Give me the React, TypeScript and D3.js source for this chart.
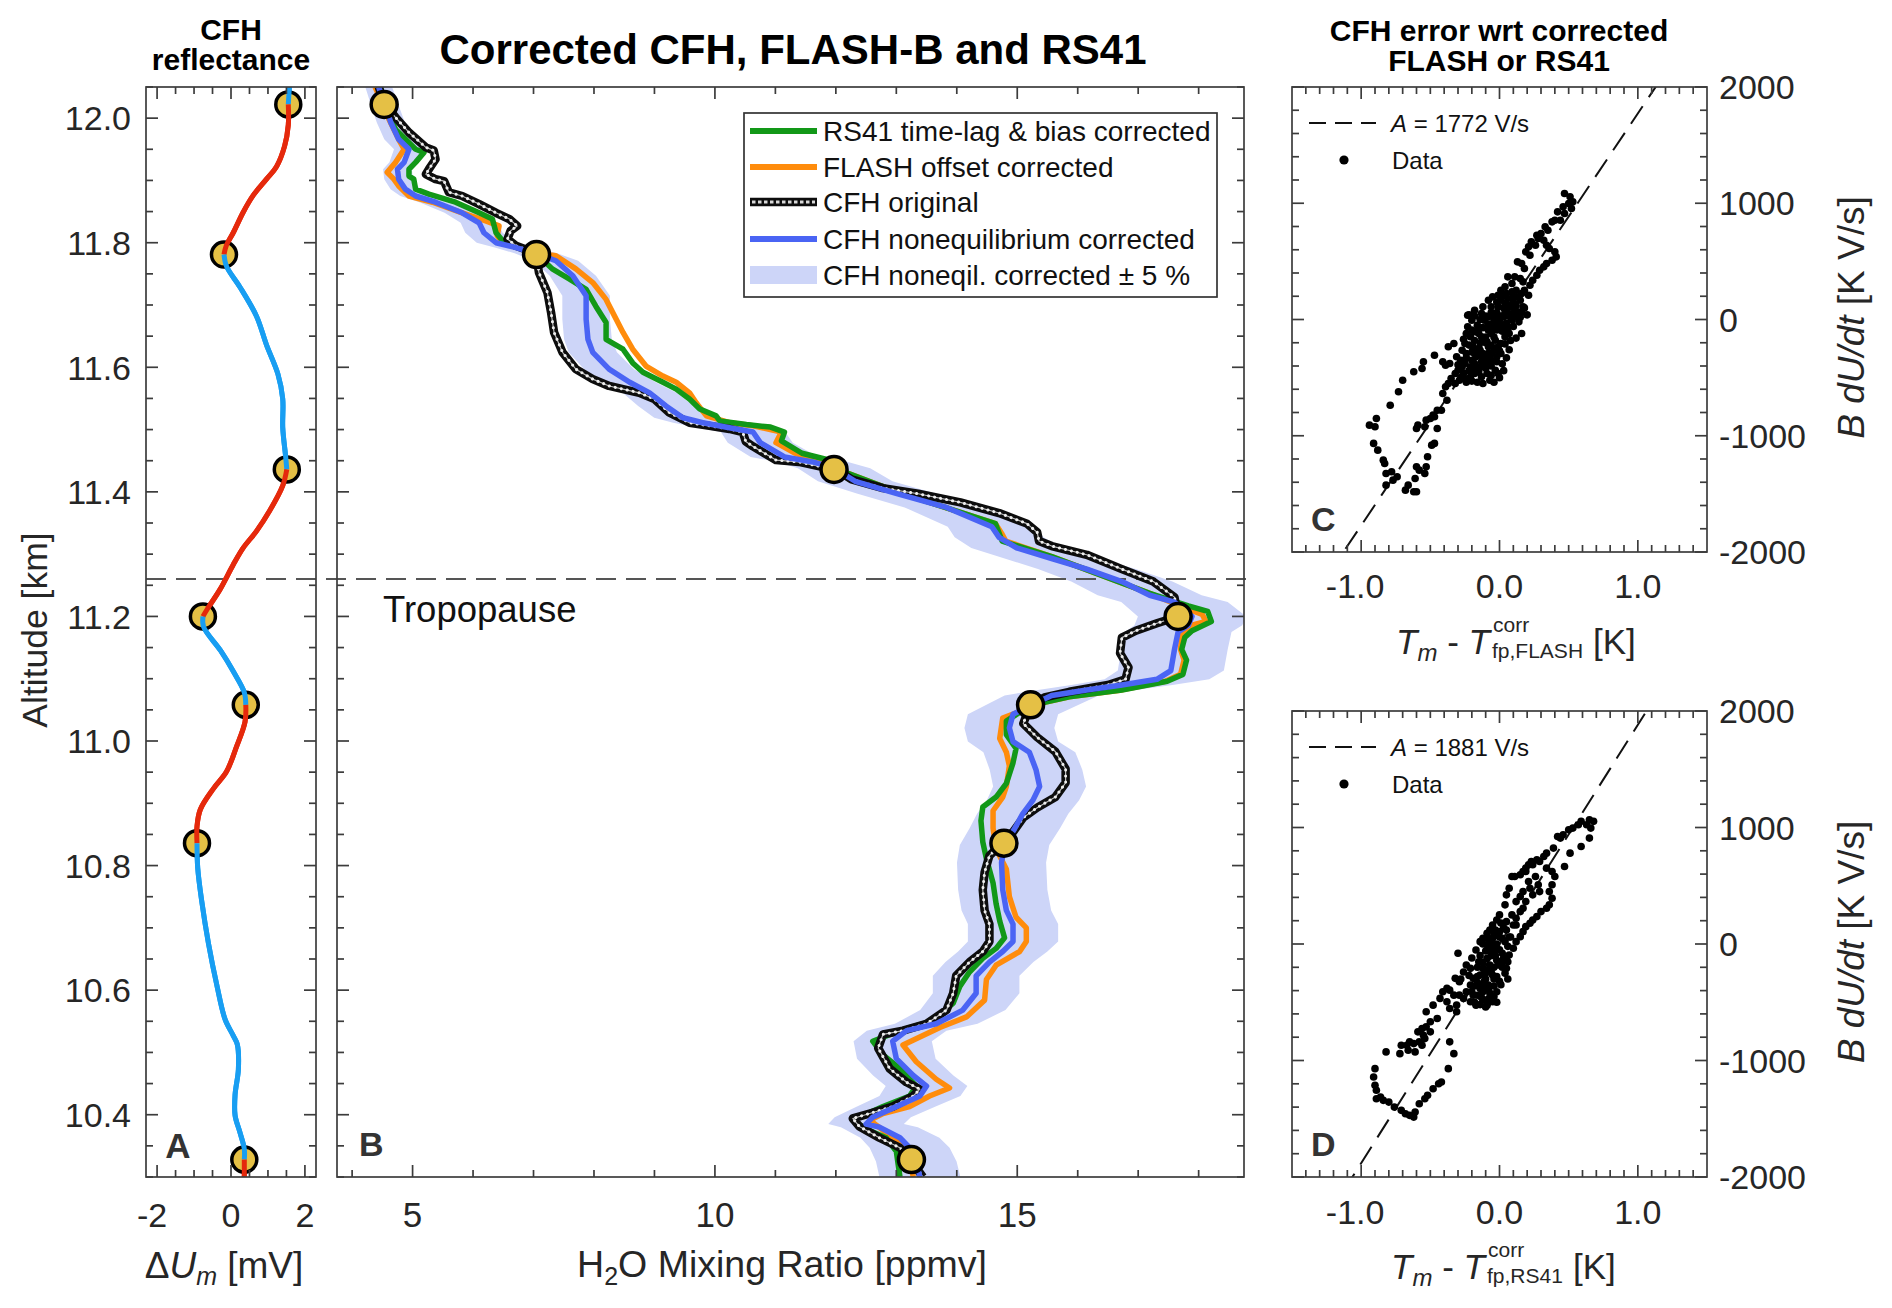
import * as d3 from "d3";

const W = 1892;
const H = 1308;
const FONT = "'Liberation Sans', Arial, Helvetica, sans-serif";
const INK = "#262626";

// yellow markers shared by panels A and B
const markerAlt = [12.022, 11.781, 11.436, 11.2, 11.058, 10.836, 10.328];
const markerDU = [1.55, -0.19, 1.51, -0.76, 0.4, -0.92, 0.36];
const markerPpmv = [4.53, 7.05, 11.97, 17.66, 15.22, 14.78, 13.25];

// panel A: [altitude km, dUm mV]
const reflectance: [number, number][] = [
  [12.05, 1.58], [12.022, 1.55], [11.989, 1.55], [11.955, 1.45], [11.922, 1.23], [11.902, 0.96],
  [11.876, 0.6], [11.849, 0.33], [11.816, 0.06], [11.795, -0.13], [11.781, -0.19], [11.762, -0.12],
  [11.729, 0.24], [11.682, 0.69], [11.636, 0.96], [11.589, 1.27], [11.549, 1.4], [11.503, 1.4],
  [11.456, 1.48], [11.436, 1.51], [11.41, 1.4], [11.37, 1.05], [11.337, 0.69], [11.31, 0.33],
  [11.283, 0.06], [11.243, -0.3], [11.212, -0.64], [11.2, -0.76], [11.183, -0.74], [11.145, -0.28],
  [11.112, 0.06], [11.078, 0.36], [11.058, 0.4], [11.031, 0.38], [10.991, 0.15], [10.951, -0.12],
  [10.924, -0.47], [10.89, -0.83], [10.863, -0.92], [10.836, -0.92], [10.796, -0.9], [10.742, -0.79],
  [10.675, -0.61], [10.607, -0.38], [10.553, -0.16], [10.527, 0.06], [10.513, 0.17], [10.473, 0.2],
  [10.432, 0.11], [10.399, 0.11], [10.372, 0.24], [10.345, 0.36], [10.328, 0.36], [10.3, 0.36],
];

// panel B profiles: [altitude km, H2O ppmv]
const rs41: [number, number][] = [
  [12.05, 4.47], [12.009, 4.58], [11.982, 4.72], [11.95, 5.05], [11.945, 5.19], [11.929, 5.05],
  [11.918, 4.94], [11.907, 4.94], [11.902, 5.02], [11.886, 5.05], [11.878, 5.27], [11.865, 5.71],
  [11.848, 6.1], [11.838, 6.32], [11.816, 6.38], [11.803, 6.49], [11.795, 6.71], [11.783, 7.04],
  [11.758, 7.31], [11.742, 7.59], [11.725, 7.87], [11.698, 8.03], [11.672, 8.2], [11.645, 8.2],
  [11.629, 8.48], [11.607, 8.64], [11.592, 8.81], [11.576, 9.14], [11.565, 9.36], [11.549, 9.58],
  [11.533, 9.75], [11.522, 10.02], [11.514, 10.08], [11.508, 10.52], [11.504, 10.92], [11.496, 11.15],
  [11.482, 11.1], [11.462, 11.44], [11.452, 11.85], [11.438, 11.97], [11.4, 13.01], [11.349, 14.64],
  [11.321, 14.75], [11.296, 15.57], [11.237, 17.19], [11.217, 17.83], [11.208, 18.15], [11.192, 18.21],
  [11.177, 17.89], [11.166, 17.77], [11.147, 17.72], [11.13, 17.8], [11.107, 17.74], [11.096, 17.48],
  [11.082, 16.73], [11.071, 15.86], [11.062, 15.45], [11.05, 15.1], [11.032, 14.82], [11.01, 14.82],
  [10.988, 14.98], [10.965, 14.93], [10.932, 14.82], [10.91, 14.65], [10.894, 14.43], [10.872, 14.4],
  [10.838, 14.43], [10.811, 14.49], [10.772, 14.6], [10.739, 14.65], [10.711, 14.71], [10.684, 14.79],
  [10.667, 14.65], [10.651, 14.43], [10.629, 14.21], [10.606, 14.05], [10.579, 13.94], [10.551, 13.61],
  [10.535, 13.06], [10.518, 12.61], [10.496, 12.78], [10.474, 13.06], [10.446, 13.33], [10.43, 13.22],
  [10.413, 12.78], [10.391, 12.28], [10.377, 12.5], [10.363, 12.83], [10.341, 13.0], [10.3, 13.06],
];

const flash: [number, number][] = [
  [12.05, 4.38], [11.998, 4.61], [11.966, 4.77], [11.95, 4.86], [11.929, 4.72], [11.913, 4.58],
  [11.902, 4.69], [11.891, 4.77], [11.875, 4.94], [11.865, 5.33], [11.848, 5.82], [11.835, 6.21],
  [11.827, 6.43], [11.811, 6.4], [11.8, 6.49], [11.783, 7.04], [11.779, 7.37], [11.758, 7.7],
  [11.736, 7.98], [11.709, 8.2], [11.688, 8.31], [11.656, 8.48], [11.629, 8.64], [11.602, 8.86],
  [11.586, 9.14], [11.576, 9.36], [11.559, 9.58], [11.543, 9.69], [11.522, 9.86], [11.511, 10.24],
  [11.506, 10.63], [11.496, 11.1], [11.479, 11.01], [11.462, 11.33], [11.438, 11.97], [11.4, 13.01],
  [11.349, 14.64], [11.332, 14.75], [11.321, 14.81], [11.296, 15.57], [11.237, 17.19], [11.215, 17.75],
  [11.203, 18.06], [11.192, 18.12], [11.186, 17.89], [11.169, 17.72], [11.147, 17.7], [11.13, 17.76],
  [11.107, 17.7], [11.096, 17.45], [11.082, 16.73], [11.071, 15.86], [11.062, 15.45], [11.037, 14.76],
  [11.004, 14.71], [10.982, 14.82], [10.96, 14.87], [10.927, 14.82], [10.91, 14.76], [10.888, 14.6],
  [10.86, 14.6], [10.827, 14.65], [10.794, 14.82], [10.75, 14.87], [10.717, 14.98], [10.7, 15.15],
  [10.678, 15.15], [10.662, 15.04], [10.64, 14.65], [10.617, 14.49], [10.584, 14.46], [10.557, 14.16],
  [10.54, 13.72], [10.512, 13.11], [10.485, 13.33], [10.457, 13.66], [10.443, 13.88], [10.43, 13.55],
  [10.413, 13.22], [10.402, 12.78], [10.391, 12.56], [10.375, 12.78], [10.353, 13.06], [10.331, 13.22],
  [10.3, 13.28],
];

const cfhOriginal: [number, number][] = [
  [12.05, 4.44], [12.024, 4.53], [12.001, 4.72], [11.977, 4.94], [11.953, 5.22], [11.948, 5.35],
  [11.934, 5.38], [11.918, 5.27], [11.91, 5.22], [11.902, 5.38], [11.899, 5.52], [11.881, 5.6],
  [11.875, 5.82], [11.862, 6.1], [11.848, 6.38], [11.838, 6.6], [11.827, 6.73], [11.819, 6.62],
  [11.806, 6.57], [11.795, 6.71], [11.783, 7.04], [11.752, 7.09], [11.72, 7.23], [11.688, 7.29],
  [11.656, 7.34], [11.624, 7.48], [11.597, 7.7], [11.581, 7.98], [11.57, 8.25], [11.565, 8.48],
  [11.559, 8.75], [11.549, 9.0], [11.527, 9.25], [11.511, 9.58], [11.506, 9.91], [11.501, 10.24],
  [11.496, 10.46], [11.481, 10.51], [11.473, 10.63], [11.451, 11.01], [11.448, 11.39], [11.441, 11.73],
  [11.438, 11.97], [11.42, 12.26], [11.406, 12.78], [11.397, 13.36], [11.383, 14.06], [11.366, 14.7],
  [11.349, 15.16], [11.335, 15.33], [11.321, 15.36], [11.313, 15.57], [11.299, 16.15], [11.276, 16.73],
  [11.256, 17.25], [11.231, 17.6], [11.2, 17.66], [11.189, 17.31], [11.177, 16.96], [11.166, 16.73],
  [11.141, 16.7], [11.118, 16.84], [11.099, 16.79], [11.09, 16.5], [11.079, 15.86], [11.07, 15.45],
  [11.058, 15.22], [11.028, 15.1], [11.006, 15.33], [10.983, 15.63], [10.955, 15.8], [10.933, 15.8],
  [10.91, 15.63], [10.893, 15.33], [10.877, 15.1], [10.854, 14.93], [10.837, 14.77], [10.816, 14.54],
  [10.789, 14.46], [10.761, 14.43], [10.728, 14.46], [10.706, 14.54], [10.678, 14.54], [10.662, 14.43],
  [10.645, 14.21], [10.623, 13.99], [10.595, 13.94], [10.568, 13.83], [10.546, 13.5], [10.535, 13.11],
  [10.529, 12.78], [10.507, 12.7], [10.474, 12.89], [10.452, 13.17], [10.441, 13.39], [10.43, 13.28],
  [10.413, 12.94], [10.402, 12.56], [10.394, 12.28], [10.381, 12.39], [10.363, 12.72], [10.347, 13.06],
  [10.327, 13.24], [10.3, 13.44],
];

const cfhNoneq: [number, number][] = [
  [12.05, 4.44], [12.024, 4.53], [11.993, 4.64], [11.966, 4.77], [11.95, 4.94], [11.929, 4.86],
  [11.918, 4.75], [11.902, 4.77], [11.886, 4.88], [11.875, 5.05], [11.865, 5.38], [11.848, 5.82],
  [11.832, 6.1], [11.816, 6.18], [11.8, 6.38], [11.792, 6.71], [11.783, 7.04], [11.771, 7.37],
  [11.747, 7.65], [11.715, 7.87], [11.677, 7.87], [11.645, 7.9], [11.624, 7.98], [11.597, 8.25],
  [11.576, 8.59], [11.559, 8.92], [11.538, 9.19], [11.519, 9.47], [11.511, 9.8], [11.503, 10.24],
  [11.496, 10.63], [11.479, 10.75], [11.456, 11.15], [11.448, 11.62], [11.438, 11.97], [11.417, 12.32],
  [11.397, 13.01], [11.375, 13.83], [11.344, 14.58], [11.327, 14.7], [11.31, 14.99], [11.293, 15.57],
  [11.276, 16.15], [11.256, 16.73], [11.234, 17.19], [11.223, 17.6], [11.2, 17.89], [11.186, 17.83],
  [11.175, 17.66], [11.147, 17.6], [11.113, 17.54], [11.099, 17.31], [11.09, 16.73], [11.082, 16.15],
  [11.073, 15.57], [11.062, 15.33], [11.043, 14.93], [11.021, 14.87], [10.999, 14.93], [10.982, 15.2],
  [10.954, 15.31], [10.927, 15.37], [10.905, 15.26], [10.883, 15.09], [10.86, 14.96], [10.833, 14.79],
  [10.805, 14.74], [10.761, 14.76], [10.728, 14.82], [10.706, 14.93], [10.678, 14.93], [10.662, 14.76],
  [10.645, 14.54], [10.623, 14.32], [10.595, 14.32], [10.568, 14.1], [10.546, 13.66], [10.535, 13.17],
  [10.518, 12.94], [10.49, 13.0], [10.463, 13.28], [10.446, 13.5], [10.43, 13.39], [10.413, 13.0],
  [10.396, 12.61], [10.385, 12.5], [10.38, 12.72], [10.363, 13.06], [10.347, 13.22], [10.325, 13.33],
  [10.3, 13.39],
];

const bandFraction = 0.05;

// panels C and D: [Tm - Tfp K, B dU/dt K V/s]
const fitFlash = 1772;
const fitRs41 = 1881;

const errFlash: [number, number][] = [
  [0.47, 1084], [0.51, 1055], [0.53, 1012], [0.5, 998], [0.46, 969], [0.52, 955], [0.42, 926], [0.47, 912],
  [0.4, 854], [0.38, 840], [0.44, 854], [0.33, 797], [0.35, 768], [0.3, 740], [0.27, 725], [0.28, 697],
  [0.23, 668], [0.26, 639], [0.21, 625], [0.19, 582], [0.22, 553], [0.32, 682], [0.34, 639], [0.36, 611],
  [0.4, 582], [0.41, 539], [0.38, 510], [0.34, 482], [0.32, 453], [0.29, 424], [0.27, 381], [0.24, 338],
  [0.22, 295], [0.18, 439], [0.16, 482], [0.13, 496], [0.11, 367], [0.15, 353], [0.17, 324], [0.06, 367],
  [0.09, 310], [0.04, 281], [0.01, 252], [-0.01, 209], [0.01, 166], [0.05, 224], [0.09, 238], [0.12, 252],
  [0.16, 224], [0.18, 252], [0.21, 209], [0.15, 166], [0.17, 109], [0.13, 66], [0.11, 23], [0.09, -6],
  [0.06, -63], [0.07, -120], [0.04, -149], [0.01, -206], [-0.01, -235], [-0.03, -264], [-0.06, -292],
  [-0.08, -321], [-0.11, -350], [-0.13, -364], [-0.18, -378], [-0.21, -407], [-0.2, -350], [-0.25, -378],
  [-0.27, -407], [-0.3, -436], [-0.32, -464], [-0.35, -507], [-0.37, -550], [-0.32, -550], [-0.29, -522],
  [-0.25, -507], [-0.21, -493], [-0.18, -464], [-0.15, -450], [-0.13, -493], [-0.09, -464], [-0.07, -522],
  [-0.03, -436], [-0.01, -464], [-0.02, -364], [0.01, -292], [-0.03, -178], [-0.08, -92], [-0.11, -6],
  [-0.13, 52], [-0.18, 80], [-0.23, 37], [-0.2, -6], [-0.16, -49], [-0.15, -120], [-0.13, -149],
  [-0.09, -192], [-0.06, -221], [-0.21, -149], [-0.25, -206], [-0.27, -264], [-0.24, -292], [-0.19, -235],
  [-0.18, -292], [-0.14, -264], [-0.12, -292], [-0.08, -235], [-0.01, -63], [0.03, 23], [0.05, 80],
  [-0.03, 23], [-0.06, 109], [-0.01, 109], [0.04, 138], [0.09, 109], [-0.08, 166], [-0.05, 195],
  [-0.12, 109], [-0.08, 23], [-0.18, -106], [-0.23, -63], [-0.31, -321], [0.0, 0], [0.05, -30],
  [-0.05, -80], [0.08, 50], [-0.1, -200], [-0.04, -150], [0.02, -100], [0.1, 150], [0.12, 120],
  [-0.02, 60], [-0.15, -250], [-0.06, -350], [-0.1, -420], [-0.17, -320],
  [-0.22, 40], [-0.18, 30], [-0.14, 0], [-0.1, 30], [-0.06, 60], [-0.02, 150], [0.02, 200], [0.06, 180],
  [0.1, 200], [0.14, 190], [0.18, 100], [0.2, 40], [0.16, 60], [0.12, 40], [0.08, 20], [0.04, 60],
  [0.0, -30], [-0.04, -10], [-0.08, -40], [-0.12, -70], [-0.16, -100], [-0.2, -90], [-0.24, -120],
  [-0.26, -170], [-0.22, -220], [-0.18, -180], [-0.14, -200], [-0.1, -150], [-0.06, -120], [-0.02, -90],
  [0.02, -60], [0.06, -100], [0.1, -60], [0.14, -20], [0.16, -120], [0.12, -160], [0.08, -180],
  [0.04, -210], [0.0, -270], [-0.04, -250], [-0.08, -290], [-0.12, -330], [-0.16, -310], [-0.2, -280],
  [-0.24, -330], [-0.28, -350], [-0.3, -390], [-0.26, -460], [-0.22, -440], [-0.18, -420], [-0.14, -410],
  [-0.1, -380], [-0.06, -400], [-0.02, -320], [0.02, -380], [0.05, -330], [0.07, -260], [-0.28, -500],
  [-0.24, -540], [-0.2, -530], [-0.16, -540], [-0.12, -550], [-0.06, -480], [-0.04, -540], [0.0, -500],
  [0.03, -440], [0.07, 120], [0.11, 90], [0.03, 100], [-0.03, -40], [0.01, 30], [0.15, 20],
  [-0.33, -206], [-0.37, -235], [-0.47, -307], [-0.55, -364], [-0.56, -421], [-0.62, -450], [-0.41, -364],
  [-0.39, -393], [-0.36, -378], [-0.7, -522], [-0.73, -622], [-0.79, -737], [-0.39, -579], [-0.41, -636],
  [-0.38, -694], [-0.42, -780], [-0.45, -780], [-0.48, -823], [-0.5, -851], [-0.53, -866], [-0.59, -909],
  [-0.6, -938], [-0.54, -923], [-0.45, -938], [-0.47, -837], [-0.89, -851], [-0.94, -909], [-0.9, -923],
  [-0.91, -1066], [-0.88, -1124], [-0.84, -1210], [-0.83, -1239], [-0.82, -1325], [-0.78, -1310],
  [-0.74, -1353], [-0.77, -1382], [-0.82, -1425], [-0.68, -1468], [-0.66, -1425], [-0.62, -1482],
  [-0.6, -1482], [-0.61, -1368], [-0.6, -1267], [-0.58, -1296], [-0.54, -1325], [-0.53, -1267],
  [-0.52, -1181], [-0.49, -1081], [-0.47, -1066],
];

const errRs41: [number, number][] = [
  [0.65, 1067], [0.68, 1053], [0.63, 1024], [0.66, 995], [0.59, 1053], [0.57, 1024], [0.53, 995], [0.5, 981],
  [0.46, 938], [0.44, 909], [0.42, 923], [0.65, 909], [0.59, 837], [0.51, 780], [0.47, 665], [0.39, 823],
  [0.34, 780], [0.32, 751], [0.27, 723], [0.23, 708], [0.21, 680], [0.19, 651], [0.17, 622], [0.15, 594],
  [0.11, 579], [0.09, 579], [0.24, 680], [0.29, 708], [0.34, 651], [0.38, 622], [0.4, 579], [0.38, 508],
  [0.36, 450], [0.38, 393], [0.36, 336], [0.34, 307], [0.3, 278], [0.27, 235], [0.24, 206], [0.22, 178],
  [0.19, 149], [0.17, 106], [0.15, 63], [0.12, 20], [0.1, -37], [0.07, -95], [0.06, -152], [0.05, -209],
  [0.19, 622], [0.21, 536], [0.22, 479], [0.24, 422], [0.28, 508], [0.29, 450], [0.26, 579], [0.17, 450],
  [0.15, 407], [0.12, 364], [0.19, 364], [0.17, 307], [0.15, 278], [0.12, 221], [0.1, 163], [0.07, 479],
  [0.05, 422], [0.04, 336], [0.0, 250], [-0.02, 206], [-0.05, 163], [-0.07, 120], [-0.09, 92], [-0.12, 49],
  [-0.14, 20], [-0.17, -52], [-0.3, -80], [-0.09, -8], [-0.05, 49], [0.0, 106], [0.05, 192], [0.09, 250],
  [0.12, 163], [-0.05, -66], [-0.09, -123], [-0.12, -209], [-0.14, -267], [-0.19, -295], [-0.21, -353],
  [-0.24, -410], [-0.26, -467], [-0.31, -525], [-0.29, -439], [-0.33, -439], [-0.36, -396], [-0.38, -381],
  [-0.41, -410], [-0.43, -467], [-0.48, -525], [-0.53, -582], [-0.32, -295], [-0.29, -324], [-0.21, -209],
  [-0.15, -152], [-0.07, -181], [-0.05, -267], [-0.08, -353], [-0.12, -410], [-0.09, -525], [-0.05, -496],
  [-0.02, -410], [-0.14, -381], [-0.17, -525], [-0.19, -439], [-0.21, -496], [-0.31, -582], [-0.36, -554],
  [-0.38, -496], [-0.02, 0], [0.0, -50], [-0.03, -100], [0.02, 50], [-0.06, -30], [0.03, -120], [-0.1, -250],
  [-0.04, -300], [0.01, -350], [0.04, -250], [-0.07, -420], [0.06, -300], [0.08, 60], [0.03, 140],
  [-0.01, -180], [0.02, -200], [-0.11, -320], [-0.16, -330], [-0.13, -460], [-0.08, -470],
  [-0.04, 80], [0.0, 60], [0.04, 20], [0.06, -20], [0.02, -80], [-0.02, -40], [-0.06, 0], [-0.08, 40],
  [-0.1, -60], [-0.06, -100], [-0.02, -140], [0.02, -160], [0.05, -120], [-0.04, -200], [-0.08, -220],
  [-0.12, -160], [-0.14, -100], [-0.16, -200], [-0.1, -300], [-0.06, -240], [-0.02, -280], [0.0, -320],
  [-0.04, -360], [-0.08, -390], [-0.12, -360], [-0.16, -280], [-0.18, -360], [-0.2, -410], [-0.16, -440],
  [-0.12, -480], [-0.08, -500], [-0.04, -450], [-0.02, -500], [-0.1, -540], [-0.14, -520], [-0.18, -500],
  [0.01, 180], [0.05, 120], [-0.03, 120], [0.07, 60], [-0.12, 0], [-0.2, -120], [-0.24, -180],
  [-0.26, -240], [-0.22, -270], [-0.28, -300],
  [-0.45, -640], [-0.5, -668], [-0.53, -711], [-0.56, -726], [-0.59, -754], [-0.55, -783], [-0.5, -754],
  [-0.54, -812], [-0.58, -840], [-0.62, -855], [-0.65, -840], [-0.67, -869], [-0.71, -869], [-0.72, -941],
  [-0.82, -926], [-0.66, -912], [-0.61, -926], [-0.56, -869], [-0.36, -840], [-0.33, -941], [-0.37, -1070],
  [-0.9, -1070], [-0.91, -1141], [-0.9, -1213], [-0.89, -1256], [-0.86, -1314], [-0.89, -1328],
  [-0.84, -1342], [-0.8, -1357], [-0.76, -1400], [-0.71, -1428], [-0.68, -1457], [-0.65, -1471],
  [-0.62, -1486], [-0.61, -1443], [-0.58, -1371], [-0.54, -1328], [-0.52, -1299], [-0.48, -1242],
  [-0.44, -1199], [-0.42, -1185],
];

// tick values
const altTicks = d3.range(206, 242).map((i) => ({ v: i * 0.05, major: i % 4 === 0 }));
const altLabels = [10.4, 10.6, 10.8, 11.0, 11.2, 11.4, 11.6, 11.8, 12.0];
const duTicks = d3.range(-4, 5).map((i) => ({ v: i * 0.5, major: i % 4 === 0 }));
const duLabels = [-2, 0, 2];
const ppmvTicks = d3.range(4, 19).map((i) => ({ v: i, major: i % 5 === 0 }));
const ppmvLabels = [5, 10, 15];
const dtTicks = d3.range(-14, 15).map((i) => ({ v: i / 10, major: i % 10 === 0 }));
const dtLabels = [-1, 0, 1];
const rateTicks = d3.range(-10, 11).map((i) => ({ v: i * 200, major: i % 5 === 0 }));
const rateLabels = [-2000, -1000, 0, 1000, 2000];

const tropopauseAlt = 11.26;

// layout
const TOP = 87;
const BOT = 1177;
const yAlt = d3.scaleLinear().domain([10.3, 12.05]).range([BOT, TOP]);
const xA = d3.scaleLinear().domain([-2.3, 2.3]).range([146, 316]);
const xB = d3.scaleLinear().domain([3.75, 18.75]).range([337, 1244]);
const xC = d3.scaleLinear().domain([-1.5, 1.5]).range([1292, 1707]);
const yC = d3.scaleLinear().domain([-2000, 2000]).range([552, 87]);
const yD = d3.scaleLinear().domain([-2000, 2000]).range([1177, 711]);

const RED = "#e5290c";
const SKY = "#189ef2";
const GREEN = "#129818";
const ORANGE = "#ff8c0c";
const BLUE = "#4a64f4";
const BAND = "#cdd5f8";
const GOLD = "#e5c045";

type Tick = { v: number; major: boolean };

function Frame(props: {
  x0: number; x1: number; y0: number; y1: number;
  xt: Tick[]; yt: Tick[]; sx: (v: number) => number; sy: (v: number) => number;
}) {
  const { x0, x1, y0, y1, xt, yt, sx, sy } = props;
  return (
    <g stroke="#3c3c3c" strokeWidth={1.7} fill="none">
      {xt.map((t, i) => {
        const p = sx(t.v);
        const l = t.major ? 12 : 7;
        return (
          <g key={"x" + i}>
            <line x1={p} x2={p} y1={y1} y2={y1 - l} />
            <line x1={p} x2={p} y1={y0} y2={y0 + l} />
          </g>
        );
      })}
      {yt.map((t, i) => {
        const p = sy(t.v);
        const l = t.major ? 12 : 7;
        return (
          <g key={"y" + i}>
            <line x1={x0} x2={x0 + l} y1={p} y2={p} />
            <line x1={x1} x2={x1 - l} y1={p} y2={p} />
          </g>
        );
      })}
      <rect x={x0} y={y0} width={x1 - x0} height={y1 - y0} />
    </g>
  );
}

// split the reflectance curve at the marker altitudes, alternating colours
function reflectanceSegments() {
  const segs: { pts: [number, number][]; color: string }[] = [];
  let cur: [number, number][] = [];
  let k = 0;
  reflectance.forEach((p, i) => {
    cur.push(p);
    if (i > 0 && markerAlt.includes(p[0])) {
      segs.push({ pts: cur, color: k % 2 === 0 ? SKY : RED });
      cur = [p];
      k++;
    }
  });
  segs.push({ pts: cur, color: k % 2 === 0 ? SKY : RED });
  return segs;
}

function ErrPanel(props: {
  y0: number; y1: number; sy: d3.ScaleLinear<number, number>; data: [number, number][];
  slope: number; letter: string; sub: string; labelBase: number; tickBase: number; clip: string;
  xT: number;
}) {
  const { y0, y1, sy, data, slope, letter, sub, labelBase, tickBase, clip, xT } = props;
  const fit = d3.line<number>().x((v) => xC(v)).y((v) => sy(slope * v));
  const subW = sub === "FLASH" ? 101 : 86;
  return (
    <g>
      <clipPath id={clip}>
        <rect x={1292} y={y0} width={415} height={y1 - y0} />
      </clipPath>
      <g clipPath={`url(#${clip})`}>
        <path d={fit([-1.5, 1.5]) || ""} stroke="#111" strokeWidth={2} strokeDasharray="21 11" fill="none" />
        {data.map((d, i) => (
          <circle key={i} cx={xC(d[0])} cy={sy(d[1])} r={3.8} fill="#000" />
        ))}
      </g>
      <Frame x0={1292} x1={1707} y0={y0} y1={y1} xt={dtTicks} yt={rateTicks} sx={xC} sy={sy} />
      {/* legend */}
      <line x1={1309} x2={1376} y1={y0 + 36} y2={y0 + 36} stroke="#111" strokeWidth={2} strokeDasharray="17 9" />
      <text x={1391} y={y0 + 45} fontSize={24} fill="#111">
        <tspan fontStyle="italic">A</tspan> = {slope} V/s
      </text>
      <circle cx={1344} cy={y0 + 73} r={4.6} fill="#000" />
      <text x={1392} y={y0 + 82} fontSize={24} fill="#111">Data</text>
      <text x={1311} y={y1 - 21} fontSize={34} fontWeight="bold" fill="#333">{letter}</text>
      {/* tick labels */}
      {rateLabels.map((v) => (
        <text key={v} x={1719} y={sy(v)} dy="0.36em" fontSize={34} fill={INK}>
          {v < 0 ? "-" + Math.abs(v) : v}
        </text>
      ))}
      {dtLabels.map((v) => (
        <text key={v} x={xC(v) - (v < 0 ? 6 : 0)} y={tickBase} textAnchor="middle" fontSize={34} fill={INK}>
          {v < 0 ? "-" + Math.abs(v).toFixed(1) : v.toFixed(1)}
        </text>
      ))}
      {/* axis labels */}
      <text x={xT} y={labelBase} textAnchor="end" fontSize={35} fill={INK}>
        <tspan fontStyle="italic">T</tspan>
        <tspan fontStyle="italic" fontSize={24} dy={7}>m</tspan>
        <tspan dy={-7}> - </tspan>
        <tspan fontStyle="italic">T</tspan>
      </text>
      <text x={xT + 3} y={labelBase - 22} fontSize={21} fill={INK}>corr</text>
      <text x={xT + 2} y={labelBase + 4} fontSize={21} fill={INK}>fp,{sub}</text>
      <text x={xT + 2 + subW} y={labelBase} fontSize={35} fill={INK}>[K]</text>
      <text transform={`translate(1864,${(y0 + y1) / 2 - 2}) rotate(-90)`} textAnchor="middle" fontSize={37} fill={INK}>
        <tspan fontStyle="italic">B dU/dt</tspan> [K V/s]
      </text>
    </g>
  );
}

export default function App() {
  const curveA = d3
    .line<[number, number]>()
    .x((d) => xA(d[1]))
    .y((d) => yAlt(d[0]))
    .curve(d3.curveCatmullRom.alpha(0.5));
  const prof = d3
    .line<[number, number]>()
    .x((d) => xB(d[1]))
    .y((d) => yAlt(d[0]));
  const band = d3
    .area<[number, number]>()
    .x0((d) => xB(d[1] * (1 - bandFraction)))
    .x1((d) => xB(d[1] * (1 + bandFraction)))
    .y((d) => yAlt(d[0]));

  const yTrop = yAlt(tropopauseAlt);
  const legendRows = [131, 167, 202, 239, 275];
  const segs = reflectanceSegments();

  return (
    <svg
      width={W}
      height={H}
      viewBox={`0 0 ${W} ${H}`}
      style={{ position: "absolute", left: 0, top: 0, display: "block", background: "#fff" }}
      fontFamily={FONT}
    >
      <rect width={W} height={H} fill="#fff" />
      <defs>
        <clipPath id="clipA">
          <rect x={146} y={TOP} width={170} height={BOT - TOP} />
        </clipPath>
        <clipPath id="clipB">
          <rect x={337} y={TOP} width={907} height={BOT - TOP} />
        </clipPath>
      </defs>

      {/* ---------- panel A ---------- */}
      <text x={231} y={40} textAnchor="middle" fontSize={30} fontWeight="bold" fill="#000">CFH</text>
      <text x={231} y={70} textAnchor="middle" fontSize={30} fontWeight="bold" fill="#000">reflectance</text>
      <line x1={146} x2={1250} y1={yTrop} y2={yTrop} stroke="#555" strokeWidth={2} strokeDasharray="20 10" />
      <g clipPath="url(#clipA)">
        {segs.map((s, i) => (
          <path key={i} d={curveA(s.pts) || ""} stroke={s.color} strokeWidth={5} fill="none" />
        ))}
        {markerAlt.map((a, i) => (
          <circle key={i} cx={xA(markerDU[i])} cy={yAlt(a)} r={12.5} fill={GOLD} stroke="#000" strokeWidth={3.5} />
        ))}
        {segs.map((s, i) => (
          <path key={"t" + i} d={curveA(s.pts) || ""} stroke={s.color} strokeWidth={5} fill="none" />
        ))}
      </g>
      <Frame x0={146} x1={316} y0={TOP} y1={BOT} xt={duTicks} yt={altTicks} sx={xA} sy={yAlt} />
      {altLabels.map((v) => (
        <text key={v} x={131} y={yAlt(v)} dy="0.36em" textAnchor="end" fontSize={34} fill={INK}>
          {v.toFixed(1)}
        </text>
      ))}
      {duLabels.map((v) => (
        <text key={v} x={xA(v) - (v < 0 ? 5 : 0)} y={1227} textAnchor="middle" fontSize={34} fill={INK}>
          {v < 0 ? "-" + Math.abs(v) : v}
        </text>
      ))}
      <text x={178} y={1158} textAnchor="middle" fontSize={35} fontWeight="bold" fill="#333">A</text>
      <text x={224} y={1278} textAnchor="middle" fontSize={37} fill={INK}>
        Δ<tspan fontStyle="italic">U</tspan>
        <tspan fontStyle="italic" fontSize={25} dy={7}>m</tspan>
        <tspan dy={-7}> [mV]</tspan>
      </text>
      <text transform="translate(47,630) rotate(-90)" textAnchor="middle" fontSize={35.5} fill={INK}>
        Altitude [km]
      </text>

      {/* ---------- panel B ---------- */}
      <text x={793} y={64} textAnchor="middle" fontSize={42} fontWeight="bold" fill="#000">
        Corrected CFH, FLASH-B and RS41
      </text>
      <g clipPath="url(#clipB)">
        <path d={band(cfhNoneq) || ""} fill={BAND} stroke="none" />
      </g>
      <line x1={337} x2={1250} y1={yTrop} y2={yTrop} stroke="#555" strokeWidth={2} strokeDasharray="20 10" strokeDashoffset={191 % 30} />
      <g clipPath="url(#clipB)" fill="none" strokeLinejoin="round">
        <path d={prof(flash) || ""} stroke={ORANGE} strokeWidth={5.5} />
        <path d={prof(rs41) || ""} stroke={GREEN} strokeWidth={5.5} />
        <path d={prof(cfhOriginal) || ""} stroke="#0d0d0d" strokeWidth={8.5} />
        <path d={prof(cfhOriginal) || ""} stroke="#bdbdbd" strokeWidth={1.2} />
        <path d={prof(cfhOriginal) || ""} stroke="#eeeeee" strokeWidth={3} strokeDasharray="0.1 6" strokeLinecap="round" />
        <path d={prof(cfhNoneq) || ""} stroke={BLUE} strokeWidth={5.5} />
        {markerAlt.map((a, i) => (
          <circle key={i} cx={xB(markerPpmv[i])} cy={yAlt(a)} r={13} fill={GOLD} stroke="#000" strokeWidth={3.5} />
        ))}
      </g>
      <Frame x0={337} x1={1244} y0={TOP} y1={BOT} xt={ppmvTicks} yt={altTicks} sx={xB} sy={yAlt} />
      {ppmvLabels.map((v) => (
        <text key={v} x={xB(v)} y={1227} textAnchor="middle" fontSize={35} fill={INK}>{v}</text>
      ))}
      <text x={383} y={622} fontSize={36.5} fill="#111">Tropopause</text>
      <text x={359} y={1156} fontSize={34} fontWeight="bold" fill="#333">B</text>
      <text x={782} y={1277} textAnchor="middle" fontSize={37.5} fill={INK}>
        H<tspan fontSize={25} dy={8}>2</tspan>
        <tspan dy={-8}>O Mixing Ratio [ppmv]</tspan>
      </text>

      {/* legend B */}
      <rect x={744} y={113} width={473} height={184} fill="#fff" stroke="#333" strokeWidth={1.7} />
      <line x1={750} x2={817} y1={legendRows[0]} y2={legendRows[0]} stroke={GREEN} strokeWidth={6} />
      <line x1={750} x2={817} y1={legendRows[1]} y2={legendRows[1]} stroke={ORANGE} strokeWidth={6} />
      <line x1={750} x2={817} y1={legendRows[2]} y2={legendRows[2]} stroke="#0d0d0d" strokeWidth={8.5} />
      <line x1={752} x2={815} y1={legendRows[2]} y2={legendRows[2]} stroke="#d8d8d8" strokeWidth={3.2} strokeDasharray="3.5 2.5" />
      <line x1={750} x2={817} y1={legendRows[3]} y2={legendRows[3]} stroke={BLUE} strokeWidth={6} />
      <rect x={750} y={legendRows[4] - 9} width={67} height={18} fill={BAND} />
      {[
        "RS41 time-lag & bias corrected",
        "FLASH offset corrected",
        "CFH original",
        "CFH nonequilibrium corrected",
        "CFH noneqil. corrected ± 5 %",
      ].map((t, i) => (
        <text key={t} x={823} y={legendRows[i] + 10} fontSize={28} fill="#111">{t}</text>
      ))}

      {/* ---------- panels C and D ---------- */}
      <text x={1499} y={41} textAnchor="middle" fontSize={30} fontWeight="bold" fill="#000">
        CFH error wrt corrected
      </text>
      <text x={1499} y={71} textAnchor="middle" fontSize={30} fontWeight="bold" fill="#000">
        FLASH or RS41
      </text>
      <ErrPanel y0={87} y1={552} sy={yC} data={errFlash} slope={fitFlash} letter="C" sub="FLASH"
        labelBase={654} tickBase={598} clip="clipC" xT={1490} />
      <ErrPanel y0={711} y1={1177} sy={yD} data={errRs41} slope={fitRs41} letter="D" sub="RS41"
        labelBase={1279} tickBase={1224} clip="clipD" xT={1485} />
    </svg>
  );
}
